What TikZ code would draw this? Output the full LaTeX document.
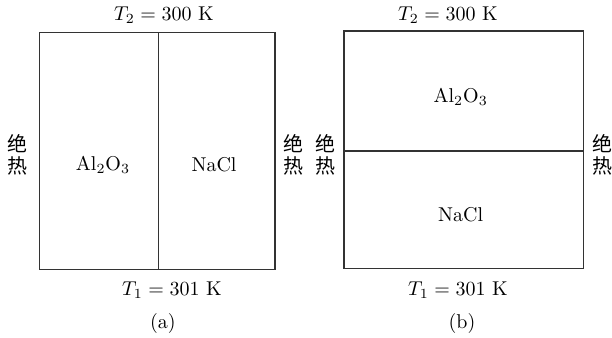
\documentclass[tikz,border=0pt]{standalone}
\usepackage{fontspec}
\newfontfamily\cjk{Noto Sans CJK SC}
\begin{document}
\begin{tikzpicture}[x=0.5pt,y=-0.5pt,
  wall/.style={draw=black!80,line width=0.6pt},
  lbl/.style={inner sep=0pt,font=\normalsize},
  ins/.style={inner sep=0pt,align=center,font=\cjk\normalsize}]
\useasboundingbox (0,0) rectangle (612,338);
% (a)
\draw[wall] (39.3,32.3) rectangle (275,269.3);
\coordinate (atop) at (158.3,32.3);
\coordinate (abot) at (158.3,269.3);
\draw[wall] (atop) -- (abot);
\node[lbl] (aT2) at (164,15) {$T_2 = 300$ K};
\node[lbl] (aT1) at (172,290.5) {$T_1 = 301$ K};
\node[lbl] (acap) at (163,323) {(a)};
\node[lbl] (aal) at (103,165) {Al$_2$O$_3$};
\node[lbl] (ana) at (214,165) {NaCl};
\node[ins] (ainsl) at (18,155) {绝\\[-1pt]热};
\node[ins] (ainsr) at (293,155) {绝\\[-1pt]热};
% (b)
\draw[wall] (344,31) rectangle (583.3,268.3);
\coordinate (bl) at (344,151);
\coordinate (br) at (583.3,151);
\draw[wall] (bl) -- (br);
\node[lbl] (bT2) at (448,15) {$T_2 = 300$ K};
\node[lbl] (bT1) at (458,290.5) {$T_1 = 301$ K};
\node[lbl] (bcap) at (462,323) {(b)};
\node[lbl] (bal) at (460.7,97) {Al$_2$O$_3$};
\node[lbl] (bna) at (460.7,215) {NaCl};
\node[ins] (binsl) at (325,155) {绝\\[-1pt]热};
\node[ins] (binsr) at (602,155) {绝\\[-1pt]热};
\end{tikzpicture}
\end{document}
